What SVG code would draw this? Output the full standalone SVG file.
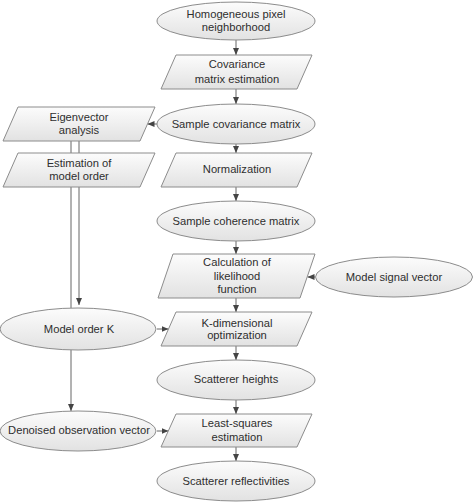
<svg xmlns="http://www.w3.org/2000/svg" width="474" height="503" viewBox="0 0 474 503">
<defs>
<linearGradient id="g" x1="0" y1="0" x2="0" y2="1">
<stop offset="0" stop-color="#fcfcfc"/>
<stop offset="1" stop-color="#e2e2e2"/>
</linearGradient>
<marker id="ah" markerUnits="userSpaceOnUse" markerWidth="7" markerHeight="6" viewBox="0 0 7 6" refX="7" refY="3" orient="auto">
<path d="M0,0 L7,3 L0,6 z" fill="#444"/>
</marker>
<style>
.s{fill:url(#g);stroke:#8c8c8c;stroke-width:1}
.t{font-family:"Liberation Sans",Arial,sans-serif;font-size:11.2px;fill:#2e2e2e;text-anchor:middle}
.c{stroke:#666;stroke-width:1;fill:none}
.a{marker-end:url(#ah)}
</style>
</defs>
<rect width="474" height="503" fill="#fff"/>
<g id="connectors">
<line class="c a" x1="236" y1="40" x2="236" y2="55"/>
<line class="c a" x1="236" y1="89" x2="236" y2="104"/>
<line class="c a" x1="157" y1="124" x2="147.5" y2="124"/>
<line class="c a" x1="236" y1="144" x2="236" y2="153"/>
<line class="c a" x1="236" y1="187" x2="236" y2="201"/>
<line class="c a" x1="236" y1="241" x2="236" y2="254"/>
<line class="c a" x1="315" y1="277" x2="307.5" y2="277"/>
<line class="c a" x1="236" y1="298" x2="236" y2="312"/>
<line class="c a" x1="157" y1="329" x2="168.5" y2="329"/>
<line class="c" x1="71" y1="141" x2="71" y2="153"/>
<line class="c" x1="79" y1="141" x2="79" y2="153"/>
<line class="c" x1="71" y1="187" x2="71" y2="308"/>
<line class="c a" x1="79" y1="187" x2="79" y2="305"/>
<line class="c a" x1="71" y1="350" x2="71" y2="411"/>
<line class="c a" x1="157" y1="431" x2="168.5" y2="431"/>
<line class="c a" x1="236" y1="346" x2="236" y2="360"/>
<line class="c a" x1="236" y1="400" x2="236" y2="414"/>
<line class="c a" x1="236" y1="447" x2="236" y2="461"/>
</g>
<g id="n1"><ellipse class="s" cx="236" cy="21" rx="79" ry="19"/><text class="t" x="236" y="18">Homogeneous pixel</text><text class="t" x="236" y="31">neighborhood</text></g>
<g id="n2"><polygon class="s" points="176,55 312,55 297,89 161,89"/><text class="t" x="237" y="68">Covariance</text><text class="t" x="237" y="83">matrix estimation</text></g>
<g id="n3"><ellipse class="s" cx="236" cy="124" rx="79" ry="20"/><text class="t" x="236" y="128">Sample covariance matrix</text></g>
<g id="n4"><polygon class="s" points="18,107 155,107 140,141 3,141"/><text class="t" x="79" y="121">Eigenvector</text><text class="t" x="79" y="134">analysis</text></g>
<g id="n5"><polygon class="s" points="18,153 155,153 140,187 3,187"/><text class="t" x="79" y="167">Estimation of</text><text class="t" x="79" y="180">model order</text></g>
<g id="n6"><polygon class="s" points="176,153 312,153 297,187 161,187"/><text class="t" x="237" y="173">Normalization</text></g>
<g id="n7"><ellipse class="s" cx="236" cy="221" rx="79" ry="20"/><text class="t" x="236" y="225">Sample coherence matrix</text></g>
<g id="n8"><polygon class="s" points="173,254 315,254 300,298 158,298"/><text class="t" x="237" y="266">Calculation of</text><text class="t" x="237" y="280">likelihood</text><text class="t" x="237" y="293">function</text></g>
<g id="n9"><ellipse class="s" cx="394" cy="277" rx="78.5" ry="20"/><text class="t" x="394" y="281">Model signal vector</text></g>
<g id="n10"><polygon class="s" points="176,312 312,312 297,346 161,346"/><text class="t" x="237" y="327">K-dimensional</text><text class="t" x="237" y="339">optimization</text></g>
<g id="n11"><ellipse class="s" cx="78" cy="329" rx="78" ry="21"/><text class="t" x="79" y="333">Model order K</text></g>
<g id="n12"><ellipse class="s" cx="236" cy="380" rx="79" ry="20"/><text class="t" x="236" y="383">Scatterer heights</text></g>
<g id="n13"><ellipse class="s" cx="78" cy="431" rx="78" ry="20"/><text class="t" x="79" y="434">Denoised observation vector</text></g>
<g id="n14"><polygon class="s" points="176,414 312,414 297,447 161,447"/><text class="t" x="237" y="427">Least-squares</text><text class="t" x="237" y="441">estimation</text></g>
<g id="n15"><ellipse class="s" cx="236" cy="481" rx="79" ry="20"/><text class="t" x="236" y="485">Scatterer reflectivities</text></g>
</svg>
